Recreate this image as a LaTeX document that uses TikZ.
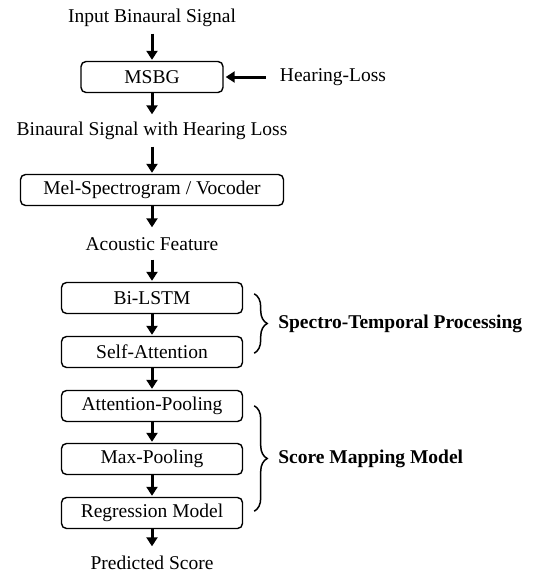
\documentclass[tikz,border=0pt]{standalone}
\usepackage{fontspec}
\setmainfont{Liberation Serif}
\usepackage{tikz}
\usetikzlibrary{arrows.meta,positioning,decorations.pathreplacing}
\tikzstyle{block} = [rectangle, draw, line width=1.4pt, rounded corners=5pt, text centered,
    minimum height=31pt, minimum width=181pt, inner sep=0pt]
\tikzstyle{signal} = [rectangle, text centered, minimum height=31pt, inner sep=0pt]
\tikzstyle{arrow} = [line width=3pt, -{Triangle[width=11pt,length=9pt]}, shorten >=1pt]
\tikzstyle{brace} = [decorate, decoration={brace, amplitude=13pt}, line width=1.5pt]

\begin{document}
\begin{tikzpicture}[x=1pt, y=1pt, node distance=54pt, font=\fontsize{19.5}{23}\selectfont]
\useasboundingbox (0,0) rectangle (539,-576);
\node[signal] (in) at (152,-18) {Input Binaural Signal};
\node[block, minimum width=142pt, below of=in, yshift=-5pt] (msbg) {MSBG};
\node[signal, right of=msbg, node distance=181pt] (hl) {Hearing-Loss};
\node[signal, below of=msbg] (hls) {Binaural Signal with Hearing Loss};
\node[block, minimum width=263pt, below of=hls, yshift=-5pt] (mel) {Mel-Spectrogram / Vocoder};
\node[signal, below of=mel] (feat) {Acoustic Feature};
\node[block, below of=feat] (bilstm) {Bi-LSTM};
\node[block, below of=bilstm] (satt) {Self-Attention};
\node[block, below of=satt] (apool) {Attention-Pooling};
\node[block, below of=apool, yshift=1pt] (mpool) {Max-Pooling};
\node[block, below of=mpool] (reg) {Regression Model};
\node[signal, below of=reg, yshift=4pt] (score) {Predicted Score};
% main chain
\draw[arrow] (in) -- (msbg);
\draw[arrow, shorten <=14pt, shorten >=2pt] (hl) -- (msbg);
\draw[arrow] (msbg) -- (hls);
\draw[arrow] (hls) -- (mel);
\draw[arrow] (mel) -- (feat);
\draw[arrow] (feat) -- (bilstm);
\draw[arrow] (bilstm) -- (satt);
\draw[arrow] (satt) -- (apool);
\draw[arrow] (apool) -- (mpool);
\draw[arrow] (mpool) -- (reg);
\draw[arrow] (reg) -- (score);
% groups
\draw[brace] ([xshift=11pt, yshift=-12pt]bilstm.north east) -- ([xshift=11pt, yshift=15pt]satt.south east)
    node[midway, right=20pt, font=\fontsize{19.5}{23}\selectfont\bfseries] (stp) {Spectro-Temporal Processing};
\draw[brace] ([xshift=11pt, yshift=-16pt]apool.north east) -- ([xshift=11pt, yshift=18pt]reg.south east)
    node[midway, right=20pt, font=\fontsize{19.5}{23}\selectfont\bfseries] (smm) {Score Mapping Model};
\end{tikzpicture}
\end{document}
